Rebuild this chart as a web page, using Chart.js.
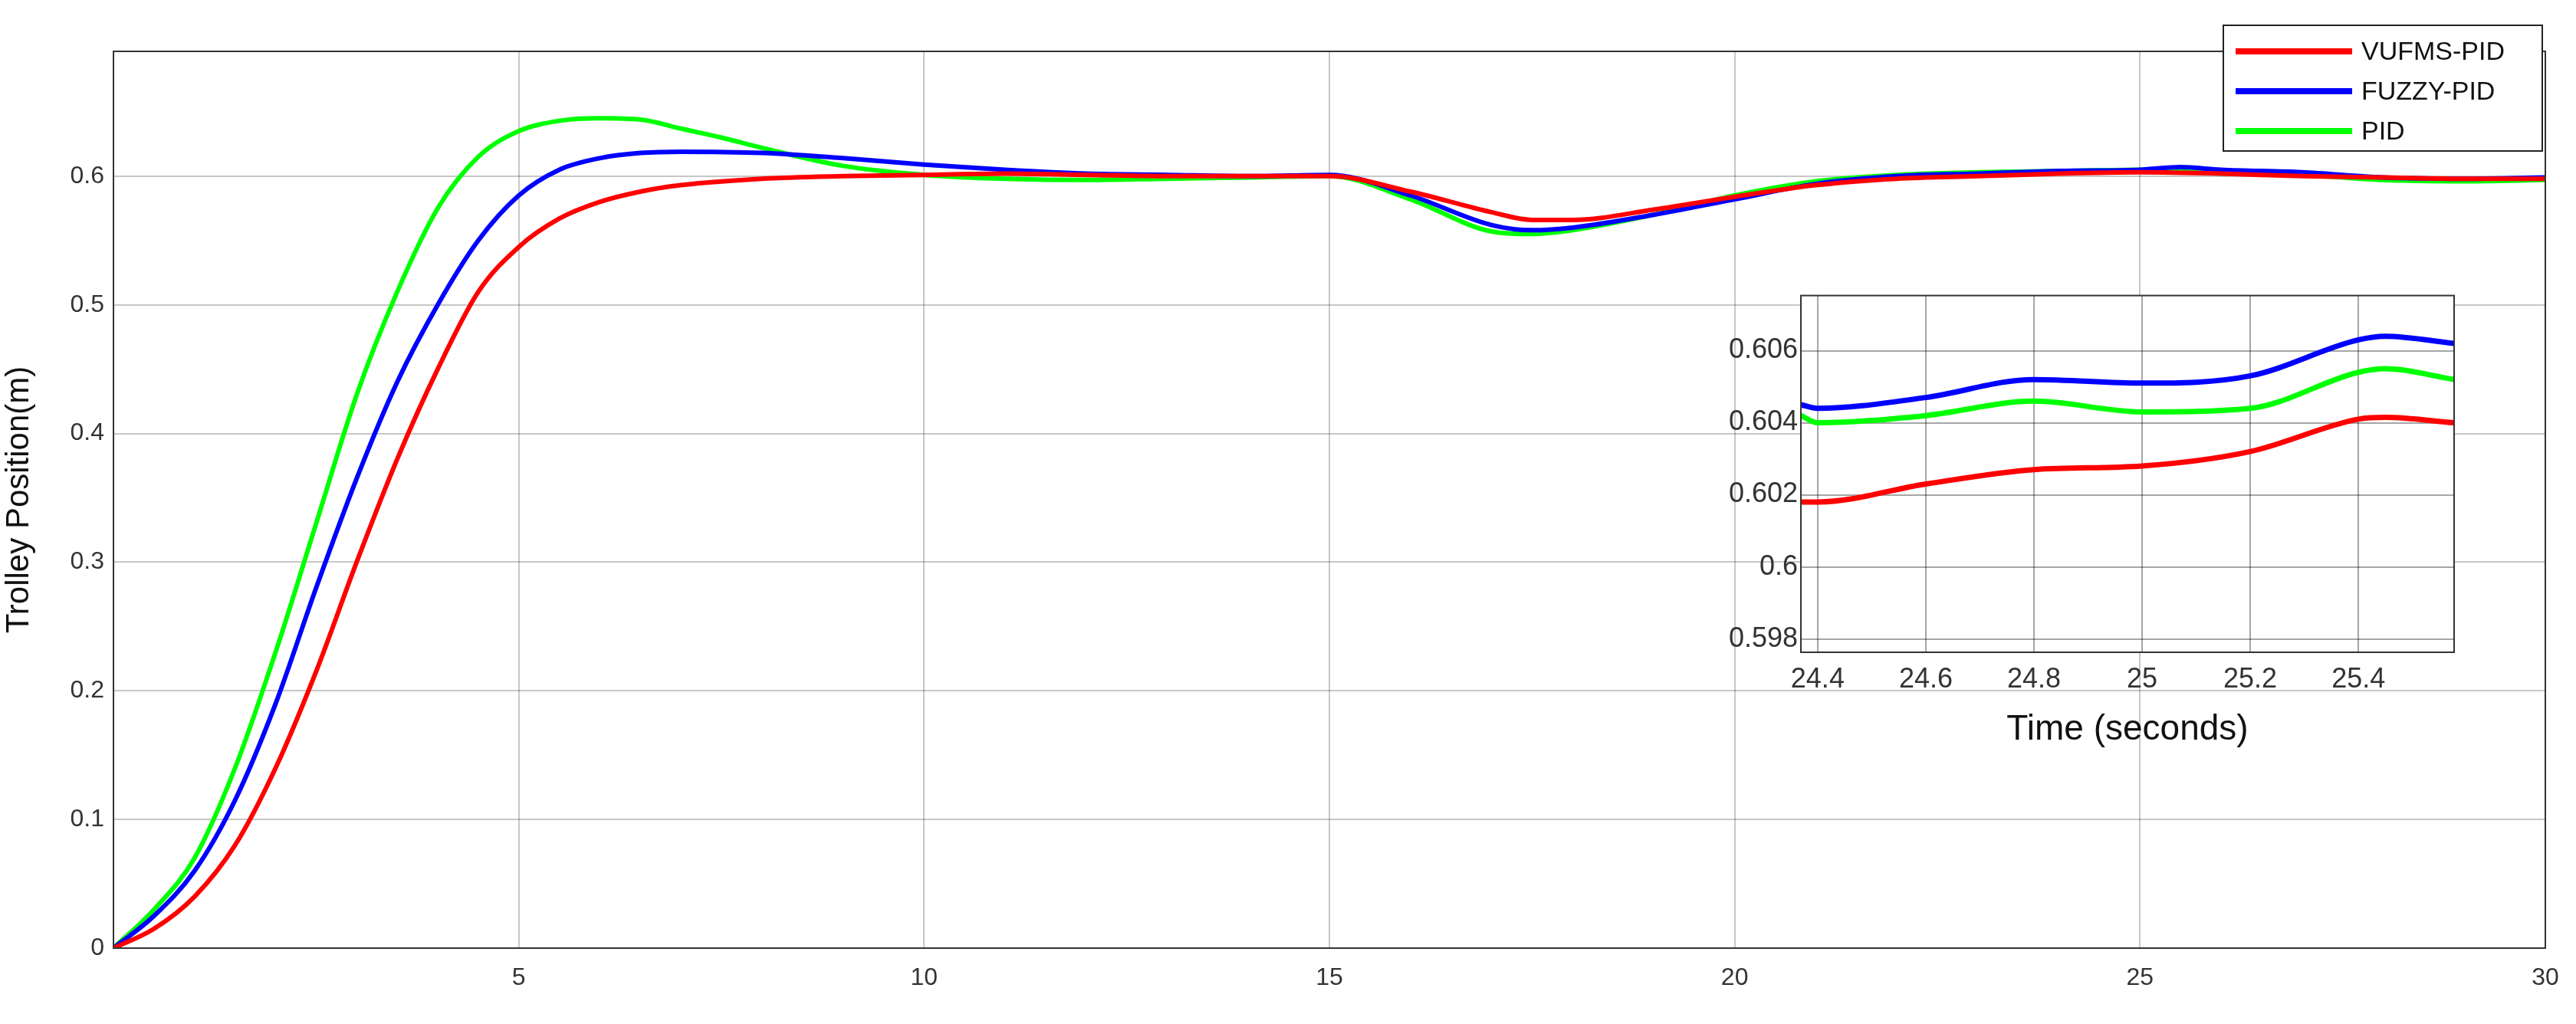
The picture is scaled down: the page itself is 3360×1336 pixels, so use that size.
<!DOCTYPE html>
<html>
<head>
<meta charset="UTF-8" />
<script src="https://cdn.jsdelivr.net/npm/chart.js"></script>
<style>
  body { margin: 0; background: #fff; width: 3360px; height: 1336px; overflow: hidden; }
  #main { position: absolute; left: 0; top: 0; }
  #inset { position: absolute; left: 2240px; top: 360px; }
</style>
</head>
<body>
<canvas id="main" width="3360" height="1336"></canvas>
<canvas id="inset" width="980" height="620"></canvas>
<script>
// main chart data (time in s, position in m)
const tRed = [0,0.5,1,1.5,2,2.5,3,3.5,4,4.5,5,5.5,6,6.5,7,8,9,10,11,12,13,14,15,16,17,17.5,18,19,20,21,22,23,24,25,26,27,28,29,30];
const vRed = [0,0.015,0.04,0.08,0.14,0.215,0.3,0.38,0.45,0.51,0.545,0.567,0.58,0.588,0.593,0.598,0.6,0.601,0.602,0.601,0.6,0.6,0.6,0.588,0.572,0.566,0.566,0.574,0.584,0.593,0.598,0.6,0.602,0.603,0.602,0.6,0.599,0.598,0.598];
const tBlue = [0,0.5,1,1.5,2,2.5,3,3.5,4,4.5,5,5.5,6,6.5,7,8,9,10,11,12,13,14,15,16,17,17.5,18,19,20,21,22,23,24,25,25.5,26,27,28,29,30];
const vBlue = [0,0.025,0.06,0.115,0.19,0.28,0.365,0.44,0.5,0.55,0.585,0.605,0.614,0.618,0.619,0.618,0.614,0.609,0.605,0.602,0.601,0.6,0.601,0.585,0.562,0.558,0.56,0.57,0.582,0.594,0.6,0.602,0.604,0.605,0.607,0.605,0.603,0.599,0.598,0.599];
const tGreen = [0,0.5,1,1.5,2,2.5,3,3.5,4,4.5,5,5.5,6,6.5,7,7.5,8,9,10,11,12,13,14,15,16,17,17.5,18,19,20,21,22,23,24,25,26,27,28,29,30];
const vGreen = [0,0.03,0.07,0.14,0.23,0.33,0.43,0.51,0.575,0.615,0.635,0.643,0.645,0.644,0.637,0.63,0.622,0.608,0.601,0.598,0.597,0.598,0.599,0.6,0.582,0.557,0.555,0.558,0.57,0.585,0.596,0.601,0.603,0.604,0.605,0.602,0.601,0.597,0.596,0.597];

// zoomed inset data
const tInRed = [24.369,24.4,24.6,24.8,25,25.2,25.4,25.45,25.577];
const vInRed = [0.6018,0.6018,0.6023,0.6027,0.6028,0.6032,0.6041,0.60415,0.6040];
const tInBlue = [24.369,24.4,24.6,24.8,25,25.2,25.4,25.45,25.577];
const vInBlue = [0.6045,0.6044,0.6047,0.6052,0.6051,0.6053,0.6063,0.6064,0.6062];
const tInGreen = [24.369,24.4,24.6,24.8,25,25.2,25.4,25.45,25.577];
const vInGreen = [0.6042,0.6040,0.6042,0.6046,0.6043,0.6044,0.6054,0.6055,0.6052];

const seriesNames = ['VUFMS-PID', 'FUZZY-PID', 'PID'];
const colors = ['#ff0000', '#0000ff', '#00ff00'];
const xTicks = [0, 5, 10, 15, 20, 25, 30];
const yTicks = [0, 0.1, 0.2, 0.3, 0.4, 0.5, 0.6];
const xInTicks = [24.4, 24.6, 24.8, 25, 25.2, 25.4];
const yInTicks = [0.598, 0.6, 0.602, 0.604, 0.606];

function pts(t, v) { return t.map((x, i) => ({ x: x, y: v[i] })); }

const FONT = 'Liberation Sans, Arial, sans-serif';
const whiteArea = {
  id: 'whiteArea',
  beforeDraw(chart) {
    const a = chart.chartArea, c = chart.ctx;
    c.save(); c.fillStyle = '#fff'; c.fillRect(a.left, a.top, a.right - a.left, a.bottom - a.top); c.restore();
  },
  afterDraw(chart) {
    const a = chart.chartArea, c = chart.ctx;
    c.save(); c.strokeStyle = '#333'; c.lineWidth = 2;
    c.strokeRect(a.left, a.top, a.right - a.left, a.bottom - a.top); c.restore();
  }
};

// legend box in the top right corner, drawn over the plot
const legendBox = {
  id: 'legendBox',
  afterDraw(chart) {
    const c = chart.ctx;
    c.save();
    c.fillStyle = '#fff'; c.fillRect(2900, 33, 416, 164);
    c.strokeStyle = '#222'; c.lineWidth = 2; c.strokeRect(2900, 33, 416, 164);
    c.font = '34px ' + FONT; c.textBaseline = 'middle'; c.fillStyle = '#111';
    chart.data.datasets.forEach((d, i) => {
      const y = 67 + i * 52;
      c.strokeStyle = d.borderColor; c.lineWidth = 8;
      c.beginPath(); c.moveTo(2916, y); c.lineTo(3068, y); c.stroke();
      c.fillText(d.label, 3080, y + 2);
    });
    c.restore();
  }
};

function ds(t, v, i, w) {
  return { label: seriesNames[i], data: pts(t, v), borderColor: colors[i], backgroundColor: colors[i],
    borderWidth: w, pointRadius: 0, cubicInterpolationMode: 'monotone', fill: false };
}

new Chart(document.getElementById('main'), {
  type: 'line',
  data: { datasets: [ds(tRed, vRed, 0, 6), ds(tBlue, vBlue, 1, 6), ds(tGreen, vGreen, 2, 6)] },
  options: {
    responsive: false, animation: false,
    layout: { padding: { top: 67, right: 40, left: 0, bottom: 0 } },
    plugins: { legend: { display: false }, tooltip: { enabled: false } },
    scales: {
      x: {
        type: 'linear', min: 0, max: 30,
        afterBuildTicks: s => { s.ticks = xTicks.map(v => ({ value: v })); },
        afterFit: s => { s.height = 99; },
        grid: { color: 'rgba(0,0,0,0.22)', lineWidth: 2, drawTicks: false },
        border: { display: false },
        ticks: { font: { family: FONT, size: 32 }, color: '#333', padding: 20,
          callback: v => v === 0 ? '' : String(v) }
      },
      y: {
        type: 'linear', min: 0, max: 0.697,
        afterBuildTicks: s => { s.ticks = yTicks.map(v => ({ value: v })); },
        afterFit: s => { s.width = 148; },
        grid: { color: 'rgba(0,0,0,0.22)', lineWidth: 2, drawTicks: false },
        border: { display: false },
        title: { display: true, text: 'Trolley Position(m)', font: { family: FONT, size: 42 }, color: '#111', padding: 0 },
        ticks: { font: { family: FONT, size: 32 }, color: '#333', padding: 12,
          callback: v => String(Math.round(v * 10) / 10) }
      }
    }
  },
  plugins: [whiteArea, legendBox]
});

new Chart(document.getElementById('inset'), {
  type: 'line',
  data: { datasets: [ds(tInRed, vInRed, 0, 7), ds(tInBlue, vInBlue, 1, 7), ds(tInGreen, vInGreen, 2, 7)] },
  options: {
    responsive: false, animation: false,
    layout: { padding: { top: 13, right: 19, left: 0, bottom: 0 } },
    plugins: { legend: { display: false }, tooltip: { enabled: false } },
    scales: {
      x: {
        type: 'linear', min: 24.369, max: 25.577,
        afterBuildTicks: s => { s.ticks = xInTicks.map(v => ({ value: v })); },
        afterFit: s => { s.height = 129; },
        grid: { color: 'rgba(0,0,0,0.35)', lineWidth: 2, drawTicks: false },
        border: { display: false },
        title: { display: true, text: 'Time (seconds)', font: { family: FONT, size: 46 }, color: '#111', padding: 0 },
        ticks: { font: { family: FONT, size: 36 }, color: '#333', padding: 14, callback: v => String(v) }
      },
      y: {
        type: 'linear', min: 0.59763, max: 0.60753,
        afterBuildTicks: s => { s.ticks = yInTicks.map(v => ({ value: v })); },
        afterFit: s => { s.width = 109; },
        grid: { color: 'rgba(0,0,0,0.35)', lineWidth: 2, drawTicks: false },
        border: { display: false },
        ticks: { font: { family: FONT, size: 36 }, color: '#333', padding: 4, callback: v => String(v) }
      }
    }
  },
  plugins: [whiteArea]
});
</script>
</body>
</html>
